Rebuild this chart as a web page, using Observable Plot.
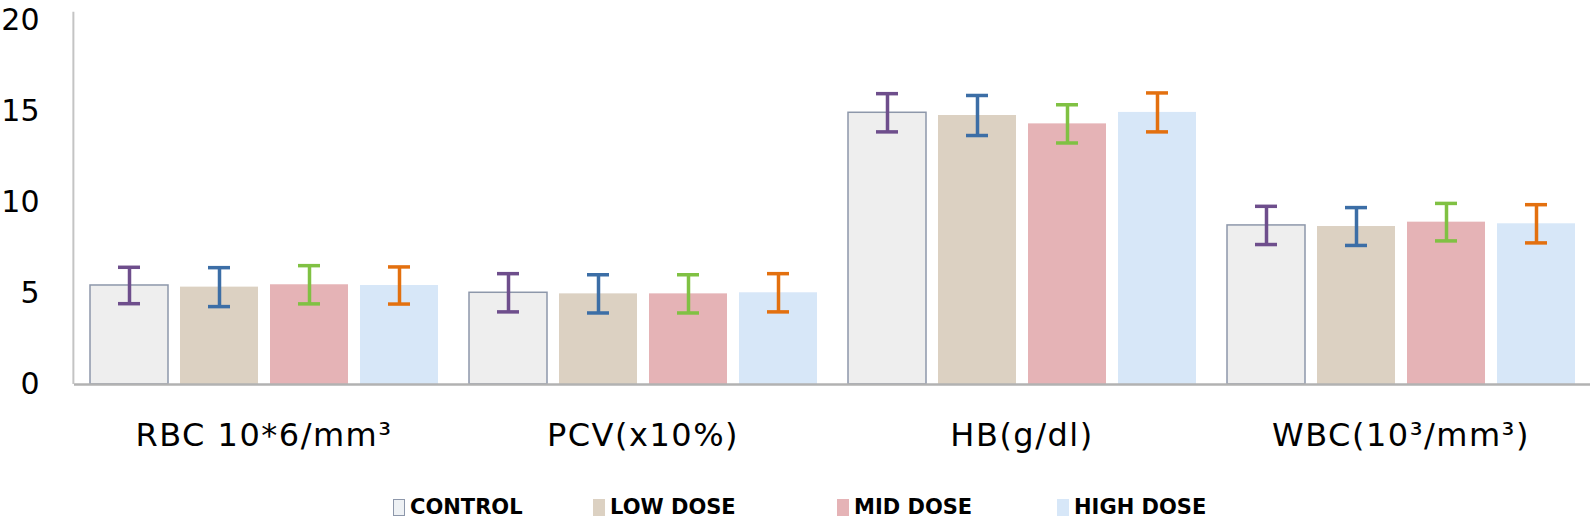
<!DOCTYPE html>
<html><head><meta charset="utf-8">
<script src="https://cdn.jsdelivr.net/npm/d3@7"></script>
<script src="https://cdn.jsdelivr.net/npm/@observablehq/plot@0.6"></script>
<style>
body{margin:0;background:#fff;font-family:"DejaVu Sans",Verdana,sans-serif;}
#wrap{position:relative;width:1591px;height:520px;overflow:hidden;}
#legend .item{position:absolute;top:495px;height:24px;line-height:24px;display:flex;align-items:center;font-weight:bold;font-size:21px;color:#000;white-space:nowrap;}
#legend .sw{width:12px;height:17px;margin-right:5px;box-sizing:border-box;}
g[aria-label="fx-axis tick label"] text{letter-spacing:1.5px;}
</style></head><body><div id="wrap"><div id="chart"></div><div id="legend"></div></div>
<script>
// ---- data ----
const categories = ["RBC 10*6/mm³", "PCV(x10%)", "HB(g/dl)", "WBC(10³/mm³)"];
const groups = ["CONTROL", "LOW DOSE", "MID DOSE", "HIGH DOSE"];
const controlMean = [5.44, 5.04, 14.93, 8.74];
const lowDoseMean = [5.35, 4.98, 14.78, 8.68];
const midDoseMean = [5.48, 4.98, 14.32, 8.92];
const highDoseMean = [5.44, 5.04, 14.95, 8.83];
const controlSD = [1.00, 1.05, 1.05, 1.05];
const lowDoseSD = [1.07, 1.05, 1.10, 1.04];
const midDoseSD = [1.05, 1.05, 1.05, 1.03];
const highDoseSD = [1.02, 1.05, 1.07, 1.05];
const yTicks = [0, 5, 10, 15, 20];

// ---- styles ----
const barFill = {"CONTROL": "#eeeeee", "LOW DOSE": "#dcd1c2", "MID DOSE": "#e5b3b6", "HIGH DOSE": "#d7e7f8"};
const errColor = {"CONTROL": "#6e4e8c", "LOW DOSE": "#3c6ea6", "MID DOSE": "#80c143", "HIGH DOSE": "#e3700f"};
const legendLeft = {"CONTROL": 393, "LOW DOSE": 593, "MID DOSE": 837, "HIGH DOSE": 1057};

const means = [controlMean, lowDoseMean, midDoseMean, highDoseMean];
const sds = [controlSD, lowDoseSD, midDoseSD, highDoseSD];
const rows = [];
categories.forEach((cat, i) => groups.forEach((g, j) => rows.push({cat, group: g, mean: means[j][i], sd: sds[j][i]})));

const W = 1591, H = 470, mL = 73, mR = 1;
const facetW = (W - mL - mR) / categories.length;

const chart = Plot.plot({
  width: W, height: H,
  marginLeft: mL, marginRight: mR, marginTop: 20, marginBottom: 86,
  style: {fontFamily: "'DejaVu Sans', Verdana, sans-serif", color: "#000", background: "#fff", overflow: "visible"},
  fx: {domain: categories, padding: 0, label: null},
  x: {domain: groups, paddingInner: 0.137, paddingOuter: 0.167, axis: null},
  y: {domain: [0, 20], axis: null},
  color: {type: "identity"},
  marks: [
    Plot.barY(rows, {fx: "cat", x: "group", y: "mean", fill: d => barFill[d.group]}),
    Plot.barY(rows, {fx: "cat", x: "group", y: "mean", fill: "none", stroke: "#8d97aa", strokeWidth: 1.5, filter: d => d.group === "CONTROL"}),
    Plot.ruleY([0], {stroke: "#b2b2b2", strokeWidth: 2.5}),
    Plot.ruleX([categories[0]], {fx: d => d, x: null, y1: 0, y2: 20.45, dx: -facetW / 2 - 1, stroke: "#c4c4c4", strokeWidth: 2}),
    Plot.ruleX(rows, {fx: "cat", x: "group", y1: d => d.mean - d.sd, y2: d => d.mean + d.sd, stroke: d => errColor[d.group], strokeWidth: 3.5}),
    Plot.tickY(rows, {fx: "cat", x: "group", y: d => d.mean - d.sd, stroke: d => errColor[d.group], strokeWidth: 3.5, insetLeft: 28, insetRight: 28}),
    Plot.tickY(rows, {fx: "cat", x: "group", y: d => d.mean + d.sd, stroke: d => errColor[d.group], strokeWidth: 3.5, insetLeft: 28, insetRight: 28}),
    Plot.axisY({ticks: yTicks, tickSize: 0, tickPadding: 35, fontSize: 30, label: null, tickFormat: d => String(d)}),
    Plot.axisFx({anchor: "bottom", tickSize: 0, tickPadding: 39, fontSize: 32, label: null})
  ]
});
document.getElementById("chart").appendChild(chart);

// ---- legend ----
const legend = document.getElementById("legend");
groups.forEach(g => {
  const it = document.createElement("div");
  it.className = "item";
  it.style.left = legendLeft[g] + "px";
  const sw = document.createElement("span");
  sw.className = "sw";
  sw.style.background = g === "CONTROL" ? "#eef1f4" : barFill[g];
  if (g === "CONTROL") sw.style.border = "1.5px solid #8d97aa";
  const tx = document.createElement("span");
  tx.textContent = g;
  it.appendChild(sw); it.appendChild(tx);
  legend.appendChild(it);
});
</script></body></html>
